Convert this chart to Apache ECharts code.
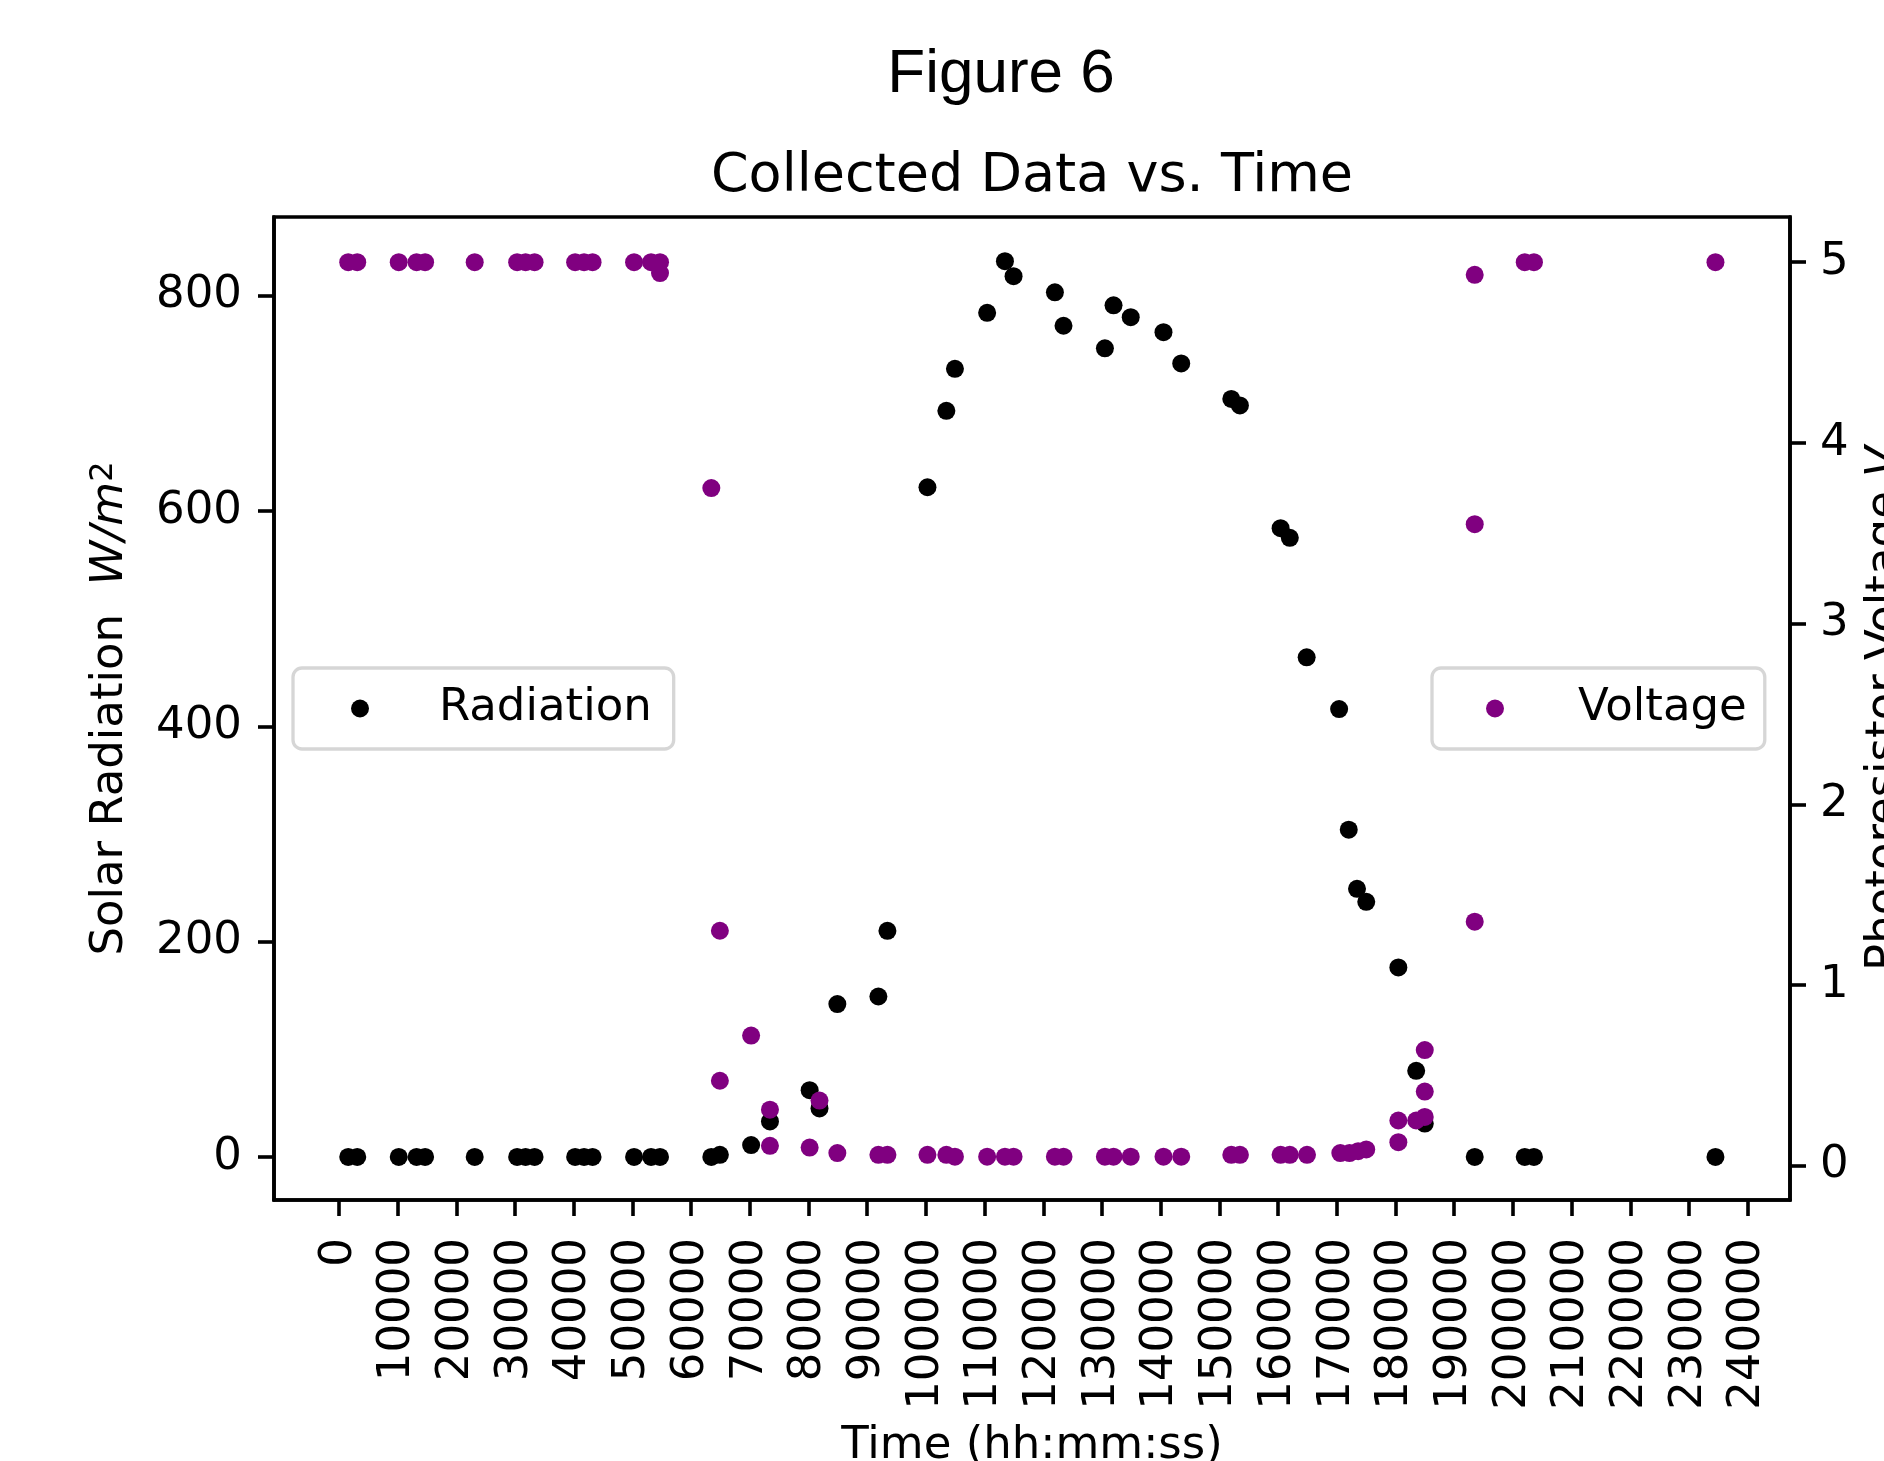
<!DOCTYPE html>
<html>
<head>
<meta charset="utf-8">
<script src="https://cdn.jsdelivr.net/npm/echarts@6/dist/echarts.min.js"></script>
<style>
  html, body { margin: 0; padding: 0; background: #fff; }
  #main { width: 1884px; height: 1461px; }
</style>
</head>
<body>
<div id="main"></div>
<script>
// time in seconds (x), radiation W/m^2 (left axis)
var radTime = [1585, 3120, 10190, 13230, 14680, 23130, 30360, 31800, 33330, 40240, 41760, 43210, 50280, 53180, 54700,
    63440, 64900, 70220, 73430, 80190, 81870, 84910, 91900, 93440,
    100260, 103480, 104940, 110430, 113460, 114930, 121970, 123440, 130490, 131960, 134890, 140470, 143490,
    152020, 153490, 160420, 161990, 164860, 170390, 172030, 173440, 175010, 180480, 183520, 184980,
    193490, 202010, 203580, 234500];
var radiation = [0, 0, 0, 0, 0, 0, 0, 0, 0, 0, 0, 0, 0, 0, 0,
    0, 2, 11, 33, 62, 45, 142, 149, 210,
    622, 693, 732, 784, 832, 818, 803, 772, 751, 791, 780, 766, 737,
    704, 698, 584, 575, 464, 416, 304, 249, 237, 176, 80, 31,
    0, 0, 0, 0];

// photoresistor voltage (right axis)
var voltTime = [1585, 3120, 10190, 13230, 14680, 23130, 30360, 31800, 33330, 40240, 41760, 43210, 50280, 53180, 54700, 54700,
    63440, 64900, 64900, 70220, 73430, 73430, 80190, 81870, 84910, 91900, 93440,
    100260, 103480, 104940, 110430, 113460, 114930, 121970, 123440, 130490, 131960, 134890, 140470, 143490,
    152020, 153490, 160420, 161990, 164920, 170590, 172160, 173630, 175010, 180480, 180480, 183520,
    184980, 184980, 184980, 193490, 193490, 193490, 202010, 203580, 234500];
var voltage = [5, 5, 5, 5, 5, 5, 5, 5, 5, 5, 5, 5, 5, 5, 5, 4.94,
    3.75, 1.30, 0.47, 0.72, 0.31, 0.11, 0.10, 0.36, 0.07, 0.06, 0.06,
    0.06, 0.06, 0.05, 0.05, 0.05, 0.05, 0.05, 0.05, 0.05, 0.05, 0.05, 0.05, 0.05,
    0.06, 0.06, 0.06, 0.06, 0.06, 0.07, 0.07, 0.08, 0.09, 0.13, 0.25, 0.25,
    0.27, 0.41, 0.64, 4.93, 3.55, 1.35, 5, 5, 5];

var xTicks = [0, 10000, 20000, 30000, 40000, 50000, 60000, 70000, 80000, 90000, 100000, 110000, 120000,
    130000, 140000, 150000, 160000, 170000, 180000, 190000, 200000, 210000, 220000, 230000, 240000];
var radTicks = [0, 200, 400, 600, 800];
var voltTicks = [0, 1, 2, 3, 4, 5];

var radData = [];
for (var i = 0; i < radTime.length; i++) {
    radData.push([radTime[i], radiation[i]]);
}
var voltData = [];
for (var i = 0; i < voltTime.length; i++) {
    voltData.push([voltTime[i], voltage[i]]);
}

var font = 'DejaVu Sans';
var line = { show: true, onZero: false, lineStyle: { color: '#000', width: 3.6 } };

var myChart = echarts.init(document.getElementById('main'), null, { renderer: 'canvas' });
var option = {
    backgroundColor: '#fff',
    animation: false,
    title: [{
        text: 'Figure 6',
        left: 1001,
        top: 44,
        padding: 0,
        textAlign: 'center',
        textStyle: { fontFamily: 'Liberation Sans', fontSize: 62, fontWeight: 'normal', color: '#000' }
    }, {
        text: 'Collected Data vs. Time',
        left: 1032,
        top: 150,
        padding: 0,
        textAlign: 'center',
        textStyle: { fontFamily: font, fontSize: 54, fontWeight: 'normal', color: '#000' }
    }],
    grid: {
        left: 274, top: 217, width: 1516, height: 983,
        show: true, borderColor: '#000', borderWidth: 3.6, backgroundColor: 'transparent',
        outerBoundsMode: 'none'
    },
    legend: [{
        data: ['Radiation'],
        left: 293, top: 668,
        padding: [18, 22, 18, 58],
        icon: 'circle', itemWidth: 18, itemHeight: 18,
        borderColor: '#d6d6d6', borderWidth: 3.3, borderRadius: 9,
        backgroundColor: 'rgba(255,255,255,0.8)',
        textStyle: { color: '#000', fontFamily: font, fontSize: 45, padding: [0, 0, 0, 65] }
    }, {
        data: ['Voltage'],
        left: 1432, top: 668,
        padding: [18, 18, 18, 54],
        icon: 'circle', itemWidth: 18, itemHeight: 18,
        borderColor: '#d6d6d6', borderWidth: 3.3, borderRadius: 9,
        backgroundColor: 'rgba(255,255,255,0.8)',
        textStyle: { color: '#000', fontFamily: font, fontSize: 45, padding: [0, 0, 0, 69] }
    }],
    xAxis: {
        type: 'value',
        min: -11060, max: 247200,
        name: 'Time (hh:mm:ss)',
        nameLocation: 'middle',
        nameGap: 224,
        nameMoveOverlap: false,
        nameTextStyle: { color: '#000', fontFamily: font, fontSize: 45 },
        axisLine: line,
        axisTick: { show: true, inside: false, length: 16, lineStyle: { color: '#000', width: 3.6 }, customValues: xTicks },
        axisLabel: {
            color: '#000', fontFamily: font, fontSize: 45, rotate: 90, margin: 38,
            customValues: xTicks,
            formatter: function (v) { return String(v); }
        },
        splitLine: { show: false }
    },
    yAxis: [{
        type: 'value',
        position: 'left',
        min: -40, max: 873,
        name: '{n|Solar Radiation  }{i|W/m}{s|2}',
        nameLocation: 'middle',
        nameGap: 141,
        nameMoveOverlap: false,
        nameTextStyle: {
            color: '#000', fontFamily: font, fontSize: 45,
            rich: {
                n: { fontFamily: font, fontSize: 45, color: '#000', lineHeight: 45, verticalAlign: 'bottom' },
                i: { fontFamily: font, fontSize: 45, fontStyle: 'italic', color: '#000', lineHeight: 45, verticalAlign: 'bottom' },
                s: { fontFamily: font, fontSize: 32, color: '#000', lineHeight: 32, verticalAlign: 'top', padding: [0, 0, 20, 0] }
            }
        },
        axisLine: line,
        axisTick: { show: true, inside: false, length: 16, lineStyle: { color: '#000', width: 3.6 }, customValues: radTicks },
        axisLabel: { color: '#000', fontFamily: font, fontSize: 45, margin: 32, customValues: radTicks },
        splitLine: { show: false }
    }, {
        type: 'value',
        position: 'right',
        min: -0.19, max: 5.25,
        name: 'Photoresistor Voltage {i|V}',
        nameLocation: 'middle',
        nameGap: 73,
        nameMoveOverlap: false,
        nameTextStyle: {
            color: '#000', fontFamily: font, fontSize: 45,
            rich: { i: { fontFamily: font, fontSize: 45, fontStyle: 'italic', color: '#000' } }
        },
        axisLine: line,
        axisTick: { show: true, inside: false, length: 16, lineStyle: { color: '#000', width: 3.6 }, customValues: voltTicks },
        axisLabel: { color: '#000', fontFamily: font, fontSize: 45, margin: 30, customValues: voltTicks },
        splitLine: { show: false }
    }],
    series: [{
        name: 'Radiation',
        type: 'scatter',
        yAxisIndex: 0,
        symbol: 'circle',
        symbolSize: 18,
        itemStyle: { color: '#000', opacity: 1 },
        data: radData
    }, {
        name: 'Voltage',
        type: 'scatter',
        yAxisIndex: 1,
        symbol: 'circle',
        symbolSize: 18,
        itemStyle: { color: '#800080', opacity: 1 },
        data: voltData
    }]
};
myChart.setOption(option);
</script>
</body>
</html>
